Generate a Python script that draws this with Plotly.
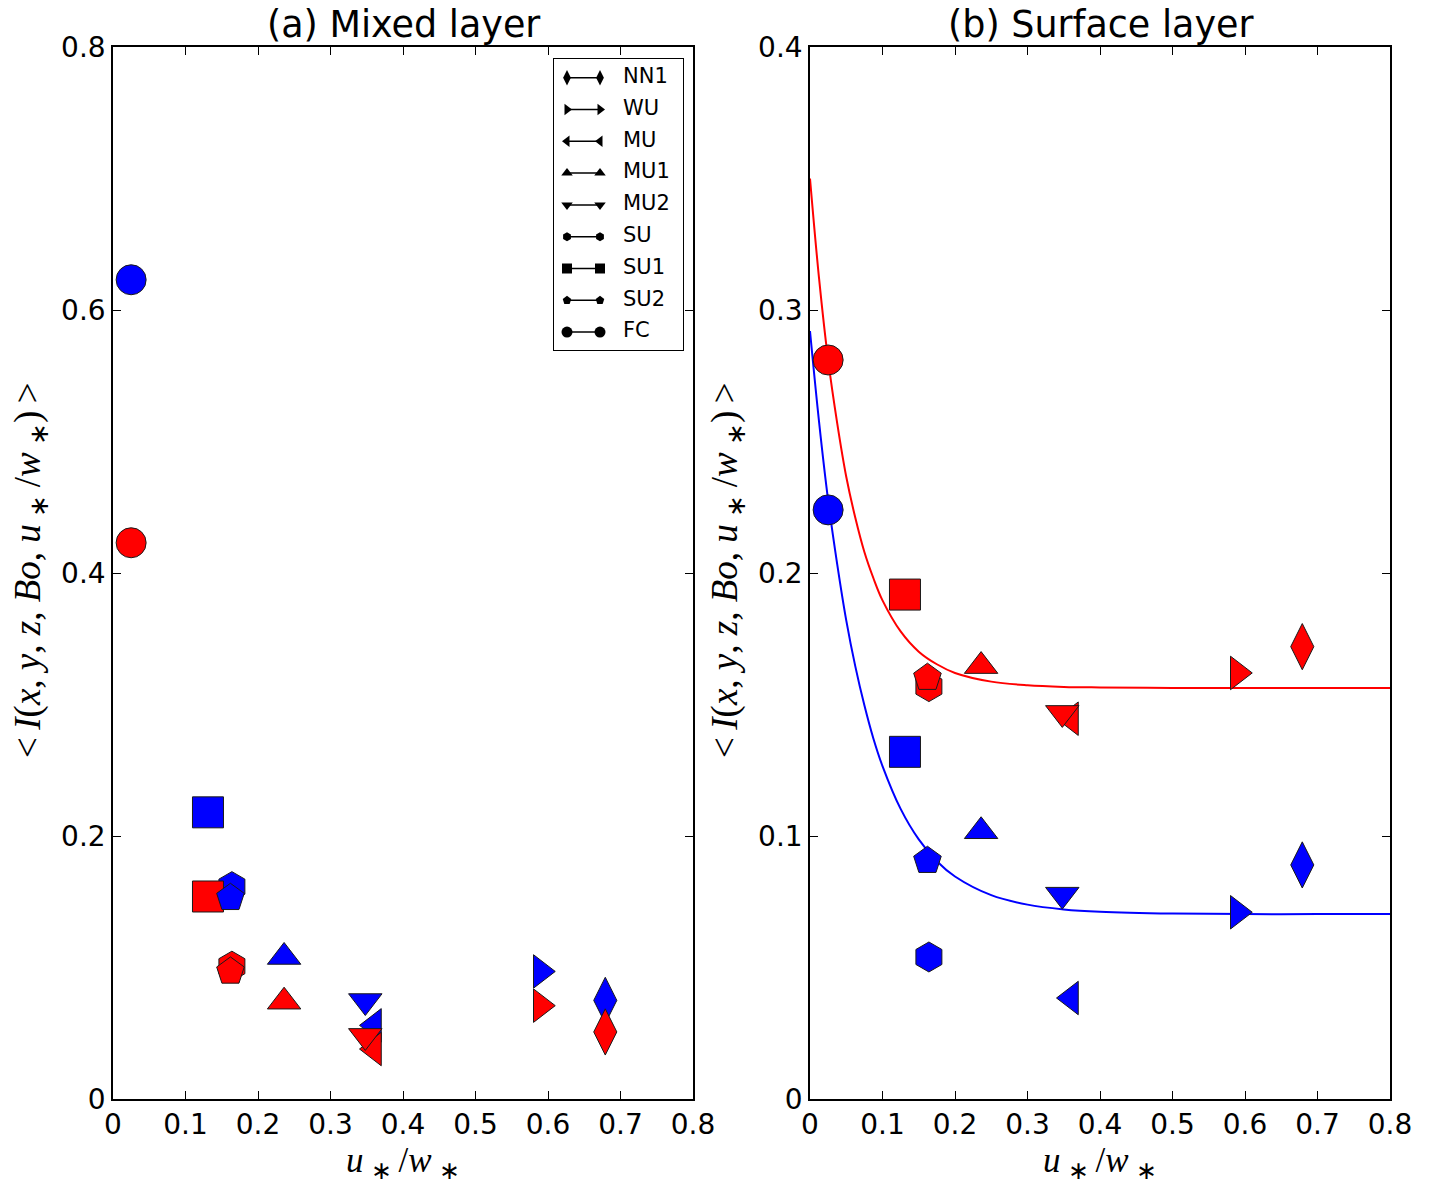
import plotly.graph_objects as go

# ---------------- data ----------------
cases = ["NN1", "WU", "MU", "MU1", "MU2", "SU", "SU1", "SU2", "FC"]
symbols = ["diamond-tall", "triangle-right", "triangle-left", "triangle-up",
           "triangle-down", "hexagon", "square", "pentagon", "circle"]
marker_sizes = [33, 29, 29, 29, 29, 30, 31, 29, 30]
legend_sizes = [11, 10, 10, 10, 10, 9, 10, 9, 11]

# u*/w* for each case
ustar_wstar = [0.679, 0.590, 0.360, 0.236, 0.348, 0.164, 0.131, 0.162, 0.025]

# (a) Mixed layer
mixed_blue = [0.075, 0.097, 0.056, 0.108, 0.0745, 0.1615, 0.218, 0.153, 0.623]
mixed_red = [0.051, 0.071, 0.038, 0.074, 0.048, 0.101, 0.154, 0.097, 0.423]

# (b) Surface layer
surf_blue = [0.089, 0.071, 0.0384, 0.1018, 0.0777, 0.054, 0.132, 0.0906, 0.224]
surf_red = [0.172, 0.162, 0.1446, 0.1646, 0.1468, 0.1568, 0.1918, 0.1602, 0.281]

# fitted curves in the surface layer panel
fit_x = [0.0, 0.0125, 0.025, 0.0375, 0.05, 0.0625, 0.075, 0.0875, 0.1, 0.125,
         0.15, 0.175, 0.2, 0.25, 0.3, 0.35, 0.4, 0.5, 0.6, 0.7, 0.8]
fit_red = [0.350, 0.312, 0.281, 0.257, 0.2366, 0.221, 0.208, 0.198, 0.1896,
           0.1778, 0.1701, 0.1653, 0.1620, 0.1587, 0.1573, 0.1567, 0.1565,
           0.1563, 0.1563, 0.1563, 0.1563]
fit_blue = [0.292, 0.2575, 0.2277, 0.2034, 0.182, 0.1645, 0.1497, 0.1370,
            0.1266, 0.1103, 0.0987, 0.0904, 0.0846, 0.0775, 0.0739, 0.0721,
            0.0712, 0.0705, 0.0703, 0.0703, 0.0703]

x_ticks = [0, 0.1, 0.2, 0.3, 0.4, 0.5, 0.6, 0.7, 0.8]
x_tick_text = ["0", "0.1", "0.2", "0.3", "0.4", "0.5", "0.6", "0.7", "0.8"]
ya_ticks = [0, 0.2, 0.4, 0.6, 0.8]
ya_tick_text = ["0", "0.2", "0.4", "0.6", "0.8"]
yb_ticks = [0, 0.1, 0.2, 0.3, 0.4]
yb_tick_text = ["0", "0.1", "0.2", "0.3", "0.4"]

RED = "#ff0000"
BLUE = "#0000ff"

# ---------------- figure ----------------
W, H = 1429, 1185
fig = go.Figure()


def px_x(p):
    return p / W


def px_y(p):
    return (H - p) / H


edge = dict(color="#1a1a1a", width=1)

# panel (a)
for i, c in enumerate(cases):
    for vals, col in ((mixed_blue, BLUE), (mixed_red, RED)):
        fig.add_trace(go.Scatter(
            x=[ustar_wstar[i]], y=[vals[i]], mode="markers",
            marker=dict(symbol=symbols[i], size=marker_sizes[i], color=col, line=edge),
            xaxis="x", yaxis="y", showlegend=False, name=c))

# panel (b): fitted curves then markers
fig.add_trace(go.Scatter(x=fit_x, y=fit_red, mode="lines", line=dict(color=RED, width=2, shape="spline"),
                         xaxis="x2", yaxis="y2", showlegend=False))
fig.add_trace(go.Scatter(x=fit_x, y=fit_blue, mode="lines", line=dict(color=BLUE, width=2, shape="spline"),
                         xaxis="x2", yaxis="y2", showlegend=False))
for i, c in enumerate(cases):
    for vals, col in ((surf_blue, BLUE), (surf_red, RED)):
        fig.add_trace(go.Scatter(
            x=[ustar_wstar[i]], y=[vals[i]], mode="markers",
            marker=dict(symbol=symbols[i], size=marker_sizes[i], color=col, line=edge),
            xaxis="x2", yaxis="y2", showlegend=False, name=c))

# legend box drawn on its own small axis (units are pixels inside the box)
box_l, box_r, box_t, box_b = 554, 683, 59, 350
row0, row_step = 18.7, 31.8
for i, c in enumerate(cases):
    ry = row0 + i * row_step
    fig.add_trace(go.Scatter(
        x=[13, 46], y=[ry, ry], mode="lines+markers",
        line=dict(color="black", width=1.5),
        marker=dict(symbol=symbols[i], size=legend_sizes[i], color="black", line=dict(width=0)),
        xaxis="x3", yaxis="y3", showlegend=False, hoverinfo="skip"))
    fig.add_trace(go.Scatter(
        x=[69], y=[ry], mode="text", text=[c], textposition="middle right",
        textfont=dict(family="DejaVu Sans", size=21, color="black"),
        xaxis="x3", yaxis="y3", showlegend=False, hoverinfo="skip"))

tickfont = dict(family="DejaVu Sans", size=28, color="black")
common_axis = dict(showgrid=False, zeroline=False, showline=True, linecolor="black", linewidth=1.5,
                   mirror="ticks", ticks="inside", ticklen=8, tickwidth=1, tickcolor="black",
                   tickfont=tickfont, automargin=False)

ydom = [px_y(1099), px_y(47)]
fig.update_layout(
    width=W, height=H, margin=dict(l=0, r=0, t=0, b=0),
    paper_bgcolor="white", plot_bgcolor="white",
    xaxis=dict(domain=[px_x(113), px_x(693)], range=[0, 0.8], anchor="y",
               tickvals=x_ticks, ticktext=x_tick_text, **common_axis),
    yaxis=dict(domain=ydom, range=[0, 0.8], anchor="x",
               tickvals=ya_ticks, ticktext=ya_tick_text, **common_axis),
    xaxis2=dict(domain=[px_x(810), px_x(1390)], range=[0, 0.8], anchor="y2",
                tickvals=x_ticks, ticktext=x_tick_text, **common_axis),
    yaxis2=dict(domain=ydom, range=[0, 0.4], anchor="x2",
                tickvals=yb_ticks, ticktext=yb_tick_text, **common_axis),
    xaxis3=dict(domain=[px_x(box_l), px_x(box_r)], range=[0, box_r - box_l], anchor="y3",
                showgrid=False, zeroline=False, showticklabels=False, ticks="", automargin=False,
                showline=True, mirror=True, linecolor="black", linewidth=1.2, fixedrange=True),
    yaxis3=dict(domain=[px_y(box_b), px_y(box_t)], range=[box_b - box_t, 0], anchor="x3",
                showgrid=False, zeroline=False, showticklabels=False, ticks="", automargin=False,
                showline=True, mirror=True, linecolor="black", linewidth=1.2, fixedrange=True),
)

title_font = dict(family="DejaVu Sans", size=36.5, color="black")
label_font = dict(family="Liberation Serif", size=37, color="black")
xlabel_font = dict(family="Liberation Serif", size=35, color="black")
ylabel = ("&lt;&#8201;<i>I</i>(<i>x</i>, <i>y</i>, <i>z</i>, <i>Bo</i>, "
          "<i>u</i>&#8201;<sub>∗</sub>&#8201;/<i>w</i>&#8201;<sub>∗</sub>)&#8201;&gt;")
xlabel = "<i>u</i>&#8201;<sub>∗</sub>&#8201;/<i>w</i>&#8201;<sub>∗</sub>"

annotations = [
    dict(text="(a) Mixed layer", x=px_x(403), y=px_y(25), font=title_font),
    dict(text="(b) Surface layer", x=px_x(1100), y=px_y(25), font=title_font),
    dict(text=xlabel, x=px_x(403), y=px_y(1162), font=xlabel_font),
    dict(text=xlabel, x=px_x(1100), y=px_y(1162), font=xlabel_font),
    dict(text=ylabel, x=px_x(30), y=px_y(570), font=label_font, textangle=-90),
    dict(text=ylabel, x=px_x(727), y=px_y(570), font=label_font, textangle=-90),
]
for a in annotations:
    a.update(xref="paper", yref="paper", showarrow=False, xanchor="center", yanchor="middle",
             borderpad=0)
fig.update_layout(annotations=annotations)

fig.write_html("out.html")
